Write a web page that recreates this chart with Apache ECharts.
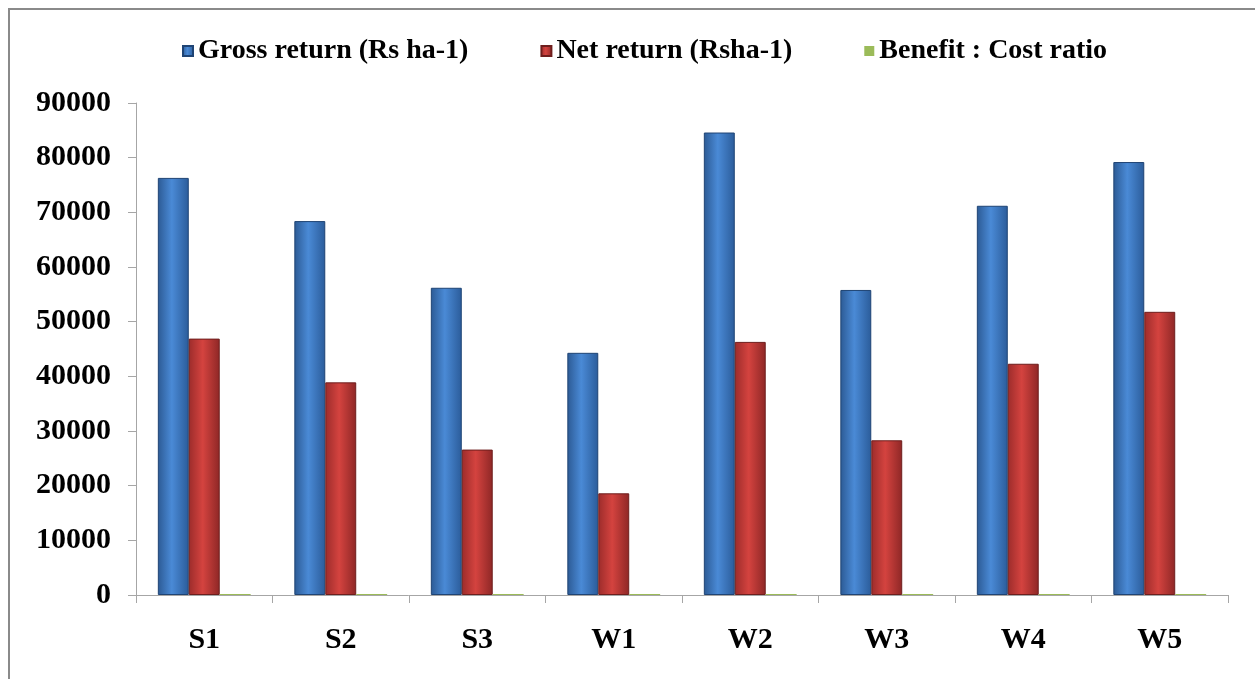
<!DOCTYPE html>
<html>
<head>
<meta charset="utf-8">
<script src="https://cdn.jsdelivr.net/npm/echarts@6/dist/echarts.min.js"></script>
<style>
html,body{margin:0;padding:0;background:#fff;}
#frame{position:absolute;left:8px;top:8px;width:1300px;height:800px;border-left:2px solid #8a8a8a;border-top:2px solid #8a8a8a;box-sizing:border-box;}
#chart{position:absolute;left:0;top:0;width:1255px;height:679px;}
</style>
</head>
<body>
<div id="frame"></div>
<div id="chart"></div>
<script>
const categories = ['S1','S2','S3','W1','W2','W3','W4','W5'];
const grossReturn = [76300, 68400, 56200, 44300, 84600, 55800, 71200, 79200];
const netReturn = [46900, 38900, 26600, 18600, 46300, 28300, 42300, 51800];
const bcRatio = [2.60, 2.32, 1.90, 1.72, 2.21, 2.03, 2.46, 2.89];
const seriesNames = ['Gross return (Rs ha-1)', 'Net return (Rsha-1)', 'Benefit : Cost ratio'];
const yTicks = {min: 0, max: 90000, interval: 10000};

const font = 'Liberation Serif';
const chart = echarts.init(document.getElementById('chart'));

function hGrad(a, b, c) {
  return new echarts.graphic.LinearGradient(0, 0, 1, 0, [
    {offset: 0, color: a}, {offset: 0.45, color: b}, {offset: 1, color: c}
  ]);
}

chart.setOption({
  backgroundColor: 'transparent',
  animation: false,
  legend: {
    top: 32,
    left: 177,
    itemWidth: 10,
    itemHeight: 10,
    itemGap: 72,
    icon: 'rect',
    textStyle: {fontFamily: font, fontWeight: 'bold', fontSize: 28, color: '#000'},
    data: seriesNames
  },
  grid: {left: 136, right: 27, top: 103, bottom: 84, containLabel: false},
  xAxis: {
    type: 'category',
    data: categories,
    axisLine: {lineStyle: {color: '#a6a6a6', width: 1}},
    axisTick: {show: true, length: 8, lineStyle: {color: '#a6a6a6'}},
    axisLabel: {fontFamily: font, fontWeight: 'bold', fontSize: 30, color: '#000', margin: 30}
  },
  yAxis: {
    type: 'value',
    min: yTicks.min, max: yTicks.max, interval: yTicks.interval,
    axisLine: {show: true, lineStyle: {color: '#a6a6a6', width: 1}},
    axisTick: {show: true, inside: false, length: 8, lineStyle: {color: '#a6a6a6'}},
    splitLine: {show: false},
    axisLabel: {fontFamily: font, fontWeight: 'bold', fontSize: 30, color: '#000', margin: 25,
      formatter: function (v) { return String(v); }}
  },
  series: [
    {
      name: seriesNames[0], type: 'bar', data: grossReturn,
      barGap: '0%', barCategoryGap: '32%',
      itemStyle: {color: hGrad('#2c5a94', '#4a8ad6', '#2b5c9a'), borderColor: '#1f4474', borderWidth: 1}
    },
    {
      name: seriesNames[1], type: 'bar', data: netReturn,
      barGap: '0%', barCategoryGap: '32%',
      itemStyle: {color: hGrad('#9c2c2b', '#d4433f', '#8e2726'), borderColor: '#6e1e1d', borderWidth: 1}
    },
    {
      name: seriesNames[2], type: 'bar', data: bcRatio,
      barGap: '0%', barCategoryGap: '32%', barMinHeight: 1,
      itemStyle: {color: '#9bbb59'}
    }
  ]
});
</script>
</body>
</html>
